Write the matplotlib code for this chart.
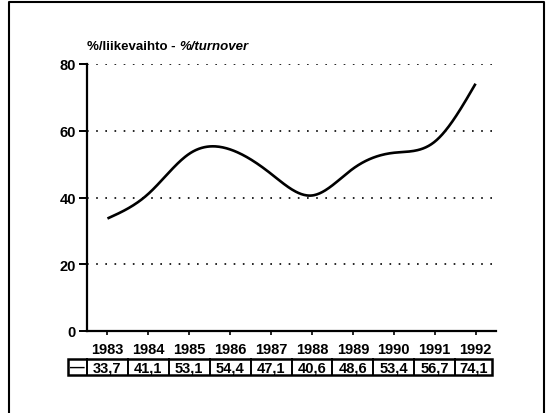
import numpy as np
import matplotlib
matplotlib.use("Agg")
import matplotlib.pyplot as plt
from matplotlib.lines import Line2D
from matplotlib.patches import Rectangle
from matplotlib.transforms import blended_transform_factory

years = [1983, 1984, 1985, 1986, 1987, 1988, 1989, 1990, 1991, 1992]
values = [33.7, 41.1, 53.1, 54.4, 47.1, 40.6, 48.6, 53.4, 56.7, 74.1]
value_labels = ["33,7", "41,1", "53,1", "54,4", "47,1", "40,6", "48,6", "53,4", "56,7", "74,1"]
yticks = [0, 20, 40, 60, 80]
title_a = "%/liikevaihto - "
title_b = "%/turnover"

plt.rcParams['font.family'] = ['Liberation Sans', 'DejaVu Sans']
plt.rcParams['font.weight'] = 'bold'
FS = 10.5


def natural_spline(x, y, n=400):
    # natural cubic spline, only to draw the smooth curve through the points
    x = np.asarray(x, float)
    y = np.asarray(y, float)
    k = len(x)
    h = np.diff(x)
    A = np.zeros((k, k))
    b = np.zeros(k)
    A[0, 0] = A[-1, -1] = 1
    for i in range(1, k - 1):
        A[i, i - 1] = h[i - 1]
        A[i, i] = 2 * (h[i - 1] + h[i])
        A[i, i + 1] = h[i]
        b[i] = 6 * ((y[i + 1] - y[i]) / h[i] - (y[i] - y[i - 1]) / h[i - 1])
    m = np.linalg.solve(A, b)
    xs = np.linspace(x[0], x[-1], n)
    idx = np.clip(np.searchsorted(x, xs) - 1, 0, k - 2)
    x0, x1 = x[idx], x[idx + 1]
    hh = x1 - x0
    t0 = x1 - xs
    t1 = xs - x0
    ys = (m[idx] * t0 ** 3 + m[idx + 1] * t1 ** 3) / (6 * hh) \
        + (y[idx] / hh - m[idx] * hh / 6) * t0 \
        + (y[idx + 1] / hh - m[idx + 1] * hh / 6) * t1
    return xs, ys


fig = plt.figure(figsize=(5.52, 4.14), dpi=100)
ax = fig.add_axes([87 / 552, 1 - 332 / 414, 409 / 552, 267 / 414])

xs, ys = natural_spline(years, values)
ax.plot(xs, ys, color='black', lw=1.9, solid_capstyle='butt')

ax.set_xlim(1982.5, 1992.5)
ax.set_ylim(0, 80)
ax.set_yticks(yticks)
ax.set_xticks(years)
ax.set_xticklabels([str(y) for y in years])
ax.yaxis.grid(True, color='black', linestyle=(0, (1, 4.5)), lw=1.2)
ax.set_axisbelow(True)
for s in ['top', 'right']:
    ax.spines[s].set_visible(False)
for s in ['left', 'bottom']:
    ax.spines[s].set_linewidth(1.6)
ax.tick_params(axis='y', direction='out', length=6, width=1.4, pad=2, labelsize=FS)
ax.tick_params(axis='x', direction='out', length=3, width=1.2, pad=5, labelsize=FS)

# value table under the years
tr = blended_transform_factory(ax.transData, fig.transFigure)
y0, y1 = 1 - 376 / 414, 1 - 360 / 414
edges = [1982.04] + [y - 0.5 for y in years] + [years[-1] + 0.4]
ax.add_patch(Rectangle((edges[0], y0), edges[-1] - edges[0], y1 - y0, transform=tr,
                       fill=False, lw=1.8, ec='black', clip_on=False))
for e in edges[1:-1]:
    ax.add_line(Line2D([e, e], [y0, y1], transform=tr, color='black', lw=1.4, clip_on=False))
ax.text((edges[0] + edges[1]) / 2, (y0 + y1) / 2, "—", transform=tr, ha='center', va='center',
        fontsize=FS, fontweight='bold')
for i, lab in enumerate(value_labels):
    ax.text((edges[i + 1] + edges[i + 2]) / 2, (y0 + y1) / 2 - 0.002, lab, transform=tr,
            ha='center', va='center', fontsize=FS, fontweight='bold')

# title over the y axis, second half in italics
t1 = fig.text(87 / 552, 1 - 53 / 414, title_a, fontsize=9.5, fontweight='bold',
              ha='left', va='bottom')
ax.annotate(title_b, xy=(1, 0), xycoords=t1, ha='left', va='bottom', fontsize=9.5,
            fontweight='bold', style='italic', annotation_clip=False)

# frame around the whole picture
lx, rx, ty = 8.5 / 552, 543.5 / 552, 1 - 3 / 414
fig.add_artist(Line2D([lx, lx, rx, rx], [0, ty, ty, 0], transform=fig.transFigure,
                      color='black', lw=1.5))

fig.savefig("out.png", dpi=100)
